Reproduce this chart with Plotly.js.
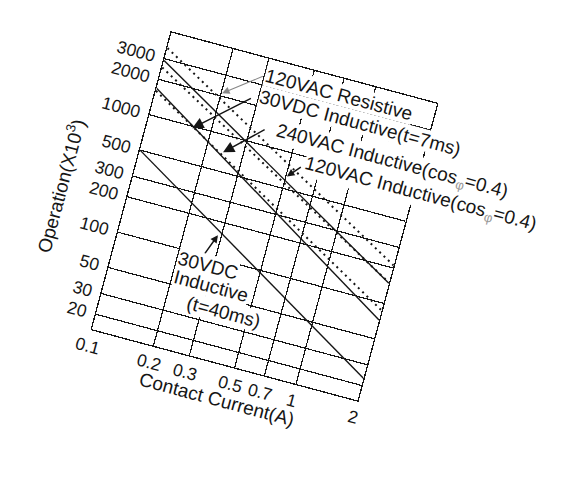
<!DOCTYPE html>
<html><head><meta charset="utf-8">
<script src="https://cdn.plot.ly/plotly-3.0.1.min.js"></script>
<style>
html,body{margin:0;padding:0;background:#fff;overflow:hidden;width:570px;height:488px;}
#chart{position:absolute;left:37px;top:2.5px;width:565px;height:447px;transform:rotate(15deg);transform-origin:227.5px 213.5px;}
</style></head><body><div id="chart"></div>
<script>
// Contact current endpoints (A) and operations (x10^3)
const currentA = [0.1, 2];
const life120VACResistive = [3700, 210];
const life120VACInductive = [2900, 148];
const life120VACInductiveDot = [2530, 150];
const life30VDC7ms = [1680, 72];
const life240VACInductive = [1600, 87];
const life30VDC40ms = [500, 23];

const xTickVals = [0.1, 0.2, 0.3, 0.5, 0.7, 1, 2];
const xTickText = ['0.1', '0.2', '0.3', '0.5', '0.7', '1', '2'];
const yTickVals = [20, 30, 50, 100, 200, 300, 500, 1000, 2000, 3000];
const yTickText = ['20', '30', '50', '100', '200', '300', '500', '1000', '2000', '3000'];

const INK = '#151515';
const solid = {color: INK, width: 1.4, dash: 'solid'};
const dotted = {color: INK, width: 2, dash: '2px,4px'};

const traces = [
  {x: currentA, y: life120VACResistive, name: '120VAC Resistive', line: dotted},
  {x: currentA, y: life120VACInductive, name: '120VAC Inductive', line: solid},
  {x: currentA, y: life120VACInductiveDot, name: '120VAC Inductive dotted', line: dotted},
  {x: currentA, y: life30VDC7ms, name: '30VDC Inductive(t=7ms)', line: solid},
  {x: currentA, y: life240VACInductive, name: '240VAC Inductive', line: dotted},
  {x: currentA, y: life30VDC40ms, name: '30VDC Inductive(t=40ms)', line: solid}
].map(t => Object.assign({type: 'scatter', mode: 'lines', hoverinfo: 'skip'}, t));

const lblFont = {size: 19, color: INK, family: 'Liberation Sans, Arial, sans-serif'};
function label(text, x, y) {
  return {text: text, xref: 'paper', yref: 'paper', x: x, y: y, xanchor: 'center', yanchor: 'middle',
    showarrow: false, font: lblFont, bgcolor: '#fff', borderpad: 0};
}
function arrow(x, y, ax, ay, color, w, size) {
  return {text: ' ', font: {size: 2}, xref: 'paper', yref: 'paper', x: x, y: y, ax: ax, ay: ay, axref: 'pixel', ayref: 'pixel',
    showarrow: true, arrowhead: 2, arrowsize: size, arrowwidth: w, arrowcolor: color, standoff: 0, startstandoff: 0};
}
const phi = "<span style='color:#999'><sub>φ</sub></span>";

const layout = {
  width: 565, height: 447,
  margin: {l: 90, r: 200, t: 60, b: 80, pad: 0},
  paper_bgcolor: 'rgba(0,0,0,0)', plot_bgcolor: '#fff',
  showlegend: false,
  font: {family: 'Liberation Sans, Arial, sans-serif', color: INK, size: 17},
  xaxis: {type: 'log', range: [-1.0005, 0.3015], tickvals: xTickVals, ticktext: xTickText,
    showgrid: true, gridcolor: INK, gridwidth: 1.2, showline: true, mirror: true, linecolor: INK, linewidth: 1.3,
    ticks: '', ticklabelstandoff: 1, tickfont: {size: 17.5}, zeroline: false, fixedrange: true},
  yaxis: {type: 'log', range: [1.174, 3.699], tickvals: yTickVals, ticktext: yTickText,
    showgrid: true, gridcolor: INK, gridwidth: 1.2, showline: true, mirror: true, linecolor: INK, linewidth: 1.3,
    ticks: '', ticklabelstandoff: 5, tickfont: {size: 17.5}, zeroline: false, fixedrange: true},
  annotations: [
    arrow(0.235, 0.852, 37, -28.5, '#888', 1, 1.5),
    arrow(0.163, 0.717, 51, -45.7, INK, 1.5, 1.5),
    arrow(0.294, 0.667, 36.3, -34.5, INK, 1.5, 1.5),
    arrow(0.541, 0.645, 13, -15, INK, 1.5, 1.0),
    arrow(0.354, 0.402, -9, 24, INK, 1.5, 1.0),
    label('120VAC Resistive', 0.647, 0.9456),
    label('30VDC Inductive(t=7ms)', 0.748, 0.875),
    label('240VAC Inductive(cos' + phi + '=0.4)', 0.897, 0.7775),
    label('120VAC Inductive(cos' + phi + '=0.4)', 1.0255, 0.7003),
    label('30VDC', 0.348, 0.299),
    label('Inductive', 0.378, 0.235),
    label('(t=40ms)', 0.448, 0.164),
    {text: 'Operation(X10<sup>3</sup>)', xref: 'paper', yref: 'paper', x: -0.2465, y: 0.423, textangle: -90,
      xanchor: 'center', yanchor: 'middle', showarrow: false, font: lblFont},
    {text: 'Contact Current(A)', xref: 'paper', yref: 'paper', x: 0.503, y: -0.117,
      xanchor: 'center', yanchor: 'middle', showarrow: false, font: lblFont}
  ]
};

Plotly.newPlot('chart', traces, layout, {staticPlot: true, displayModeBar: false});
</script></body></html>
